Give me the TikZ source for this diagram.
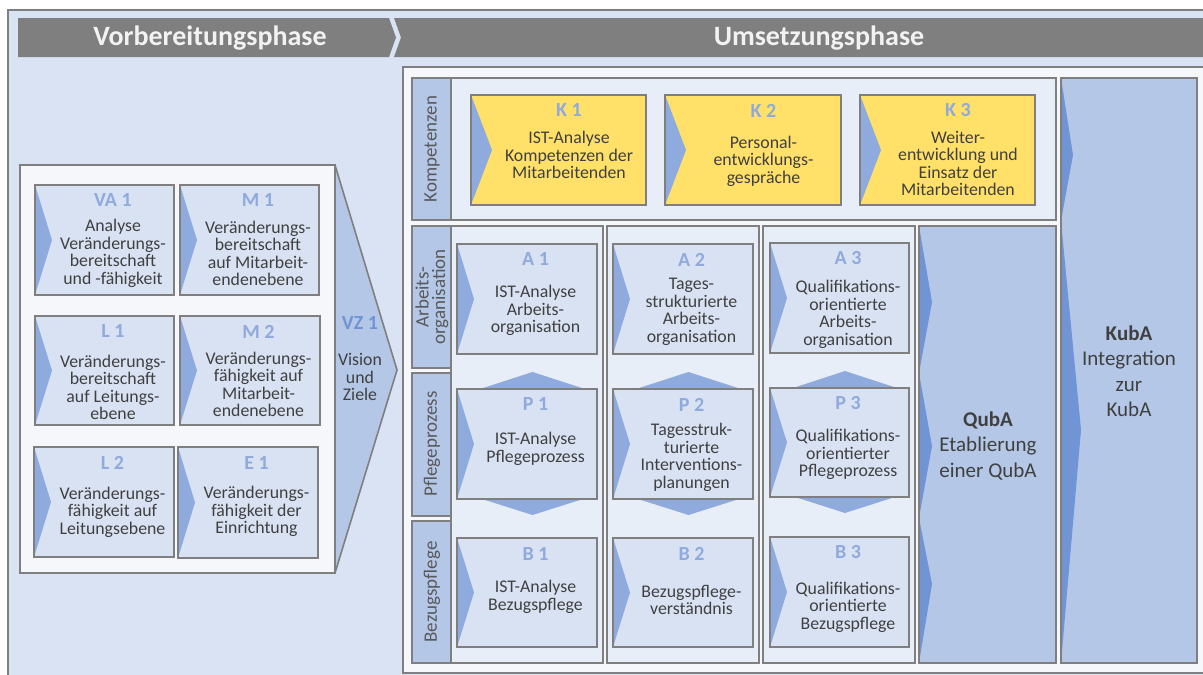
\documentclass[tikz,border=0pt]{standalone}
\usepackage{fontspec}
\setmainfont{Carlito}
\usetikzlibrary{calc}

\definecolor{bgblue}{HTML}{DAE3F3}
\definecolor{paper}{HTML}{F5F7FB}
\definecolor{lane}{HTML}{E8EEF8}
\definecolor{cardblue}{HTML}{D9E2F3}
\definecolor{wedgeblue}{HTML}{8FAADC}
\definecolor{midblue}{HTML}{B4C7E7}
\definecolor{deepblue}{HTML}{7094D4}
\definecolor{gold}{HTML}{FFE069}
\definecolor{rulegray}{HTML}{7F7F7F}
\definecolor{ink}{HTML}{404040}
\definecolor{labelink}{HTML}{595959}
\definecolor{bannerink}{HTML}{F2F2F2}

\tikzset{
  rulepen/.style={draw=rulegray,line width=1.6pt},
  cardbox/.style={rectangle,inner sep=0pt,outer sep=0pt},
  wedgefill/.style={fill=wedgeblue},
  cardtitle/.style={font=\fontsize{20}{21}\selectfont\bfseries,text=wedgeblue,inner sep=0pt},
  cardtext/.style={font=\fontsize{17.8}{17.5}\selectfont,text=ink,align=center,inner sep=0pt},
  rowlabel/.style={font=\fontsize{19}{16.5}\selectfont,text=labelink,align=center,inner sep=0pt,rotate=90},
  bannertext/.style={font=\fontsize{28}{30}\selectfont\bfseries,text=bannerink,inner sep=0pt},
  bigtext/.style={font=\fontsize{21}{25.5}\selectfont,text=ink,align=center,inner sep=0pt},
  cell/.style={rectangle,inner sep=0pt,outer sep=0pt,rulepen},
}

\newcommand\wdepth{17}
% card: name, x1, y1, x2, y2, fill, title, body, body offset from centre
\newcommand\stepcard[9]{%
  \pgfmathsetmacro\cardw{#4-#2}%
  \pgfmathsetmacro\cardh{#5-#3}%
  \node[cardbox,fill=#6,minimum width=\cardw pt,minimum height=\cardh pt] (#1) at ({(#2+#4)/2},{(#3+#5)/2}) {};
  \fill[wedgefill] (#1.north west) -- ($(#1.west)+(\wdepth,0)$) -- (#1.south west) -- cycle;
  \draw[rulepen] (#1.north west) rectangle (#1.south east);
  \node[cardtitle] (#1-title) at ($(#1.north)+(\wdepth/2,15.5)$) {#7};
  \node[cardtext] (#1-text) at ($(#1.center)+(\wdepth/2,#9)$) {#8};
}
% plain framed rectangle: name, x1, y1, x2, y2, fill
\newcommand\framedcell[6]{%
  \pgfmathsetmacro\cardw{#4-#2}%
  \pgfmathsetmacro\cardh{#5-#3}%
  \node[cell,fill=#6,minimum width=\cardw pt,minimum height=\cardh pt] (#1) at ({(#2+#4)/2},{(#3+#5)/2}) {};
}
% arrow points above and below a process card
\newcommand\linkarrows[1]{%
  \fill[wedgefill] ($(#1.north west)+(23,0)$) -- ($(#1.north)+(5.5,-17)$) -- ($(#1.north east)+(-12,0)$) -- cycle;
  \fill[wedgefill] ($(#1.south west)+(25,0)$) -- ($(#1.south)+(5.5,16)$) -- ($(#1.south east)+(-14,0)$) -- cycle;
  \draw[rulepen] (#1.north west) rectangle (#1.south east);
}

\begin{document}
\begin{tikzpicture}[x=1pt,y=-1pt]
\useasboundingbox (0,0) rectangle (1203,675);
\clip (0,0) rectangle (1203,675);
\fill[white] (0,0) rectangle (1203,675);

% outer frame
\filldraw[fill=bgblue,rulepen] (8,10) rectangle (1220,700);

% phase banner
\fill[rulegray] (18,18) -- (389,18) -- (396,37.5) -- (389,57) -- (18,57) -- cycle;
\fill[rulegray] (394,18) -- (1220,18) -- (1220,57) -- (394,57) -- (401,37.5) -- cycle;
\node[bannertext] (prep) at (210,38) {Vorbereitungsphase};
\node[bannertext] (impl) at (819,38) {Umsetzungsphase};

% preparation phase
\filldraw[fill=midblue,rulepen,line join=round] (335,165) -- (397,370) -- (335,573) -- cycle;
\framedcell{prepbox}{20}{165}{335}{573}{paper}
\node[cardtitle,text=deepblue] (vz1-title) at (360,323) {VZ 1};
\node[cardtext] (vz1-text) at (360,377) {Vision\\und\\Ziele};

\stepcard{va1}{35}{185}{174}{295}{cardblue}{VA 1}{Analyse\\Veränderungs-\\bereitschaft\\und -fähigkeit}{13.5}
\stepcard{m1}{180}{185}{319}{295}{cardblue}{M 1}{Veränderungs-\\bereitschaft\\auf Mitarbeit-\\endenebene}{13.5}
\stepcard{l1}{35}{316}{174}{425}{cardblue}{L 1}{Veränderungs-\\bereitschaft\\auf Leitungs-\\ebene}{17}
\stepcard{m2}{180}{316}{320}{425}{cardblue}{M 2}{Veränderungs-\\fähigkeit auf\\Mitarbeit-\\endenebene}{14}
\stepcard{l2}{34}{447}{174}{557}{cardblue}{L 2}{Veränderungs-\\fähigkeit auf\\Leitungsebene}{10}
\stepcard{e1}{178}{447}{318}{558}{cardblue}{E 1}{Veränderungs-\\fähigkeit der\\Einrichtung}{9}

% implementation phase
\filldraw[fill=paper,rulepen] (403,67) rectangle (1220,673);

% competence row
\framedcell{krow}{412}{78}{1056}{220}{lane}
\framedcell{klabel}{412}{78}{451}{220}{midblue}
\node[rowlabel] (klabel-text) at (432,149) {Kompetenzen};
\renewcommand\wdepth{21}
\stepcard{k1}{471}{95}{646}{205}{gold}{K 1}{IST-Analyse\\Kompetenzen der\\Mitarbeitenden}{5}
\stepcard{k2}{665}{95}{841}{205}{gold}{K 2}{Personal-\\entwicklungs-\\gespräche}{11}
\stepcard{k3}{860}{95}{1035}{205}{gold}{K 3}{Weiter-\\entwicklung und\\Einsatz der\\Mitarbeitenden}{13.5}
\renewcommand\wdepth{17}

% row labels
\framedcell{alabel}{412}{226}{451}{368}{midblue}
\framedcell{plabel}{412}{373}{451}{516}{midblue}
\framedcell{blabel}{412}{521}{451}{663}{midblue}
\node[rowlabel] (alabel-text) at (432,297) {Arbeits-\\organisation};
\node[rowlabel] (plabel-text) at (432,444) {Pflegeprozess};
\node[rowlabel] (blabel-text) at (432,592) {Bezugspflege};

% columns
\framedcell{col1}{451}{226}{603}{663}{lane}
\framedcell{col2}{607}{226}{759}{663}{lane}
\framedcell{col3}{763}{226}{915}{663}{lane}

\stepcard{a1}{457}{244}{597}{354}{cardblue}{A 1}{IST-Analyse\\Arbeits-\\organisation}{11.5}
\stepcard{p1}{457}{389}{597}{499}{cardblue}{P 1}{IST-Analyse\\Pflegeprozess}{5}
\stepcard{b1}{457}{538}{597}{647}{cardblue}{B 1}{IST-Analyse\\Bezugspflege}{4.5}
\stepcard{a2}{613}{244}{753}{354}{cardblue}{A 2}{Tages-\\strukturierte\\Arbeits-\\organisation}{13}
\stepcard{p2}{613}{389}{753}{499}{cardblue}{P 2}{Tagesstruk-\\turierte\\Interventions-\\planungen}{13.5}
\stepcard{b2}{613}{538}{753}{647}{cardblue}{B 2}{Bezugspflege-\\verständnis}{7.5}
\stepcard{a3}{770}{243}{909}{353}{cardblue}{A 3}{Qualifikations-\\orientierte\\Arbeits-\\organisation}{16.5}
\stepcard{p3}{770}{388}{909}{497}{cardblue}{P 3}{Qualifikations-\\orientierter\\Pflegeprozess}{12}
\stepcard{b3}{770}{537}{909}{647}{cardblue}{B 3}{Qualifikations-\\orientierte\\Bezugspflege}{15}
\linkarrows{p1}
\linkarrows{p2}
\linkarrows{p3}

% QubA
\framedcell{quba}{919}{226}{1056}{663}{midblue}
\fill[deepblue] (quba.north west) -- (932,302) -- (919,373) -- (932,446) -- (919,518) -- (932,584) -- (quba.south west) -- cycle;
\draw[rulepen] (quba.north west) rectangle (quba.south east);
\node[bigtext] (quba-text) at (988,446) {\textbf{QubA}\\Etablierung\\einer QubA};

% KubA
\framedcell{kuba}{1061}{78}{1197}{663}{midblue}
\fill[deepblue] (kuba.north west) -- (1073,155) -- (1061,221) -- (1081,430) -- (kuba.south west) -- cycle;
\draw[rulepen] (kuba.north west) rectangle (kuba.south east);
\node[bigtext] (kuba-text) at (1129,371) {\textbf{KubA}\\Integration\\zur\\KubA};
\end{tikzpicture}
\end{document}
